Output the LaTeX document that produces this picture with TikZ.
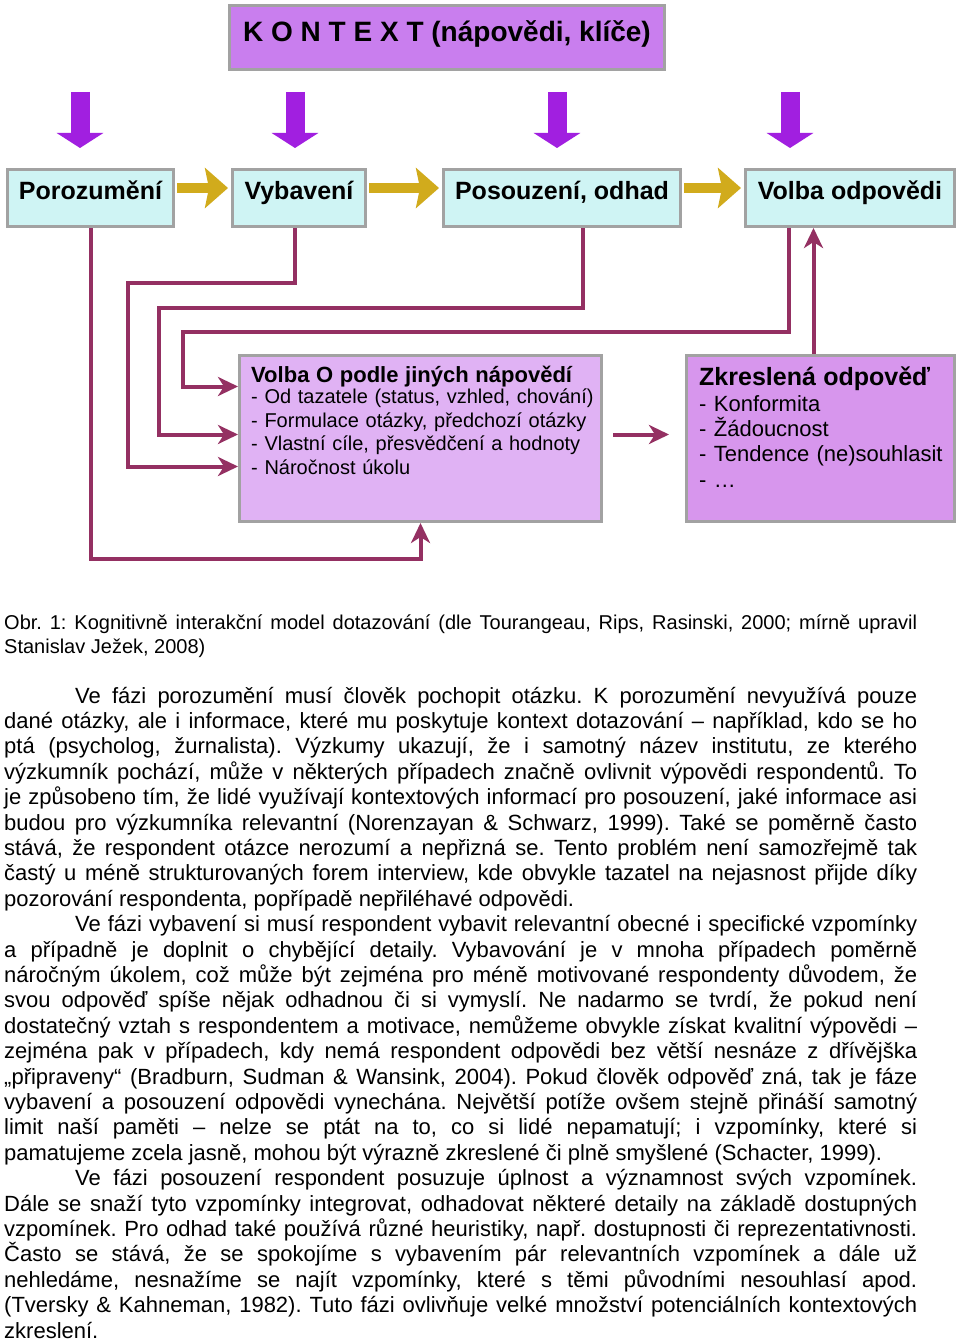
\documentclass[tikz,border=0pt]{standalone}
\usepackage{fontspec}
\setmainfont{Liberation Sans}
\usetikzlibrary{arrows.meta}

\definecolor{boxgray}{RGB}{162,162,162}
\definecolor{ctxviolet}{RGB}{201,126,238}
\definecolor{cuepurple}{RGB}{161,31,224}
\definecolor{phasecyan}{RGB}{207,244,244}
\definecolor{flowgold}{RGB}{209,171,28}
\definecolor{linkplum}{RGB}{148,48,98}
\definecolor{choicefill}{RGB}{224,178,244}
\definecolor{biasfill}{RGB}{215,150,237}

\frenchspacing
\setlength{\lineskiplimit}{-50pt}
\newcommand{\jline}[1]{\hbox to 913pt{\spaceskip=0pt\xspaceskip=0pt #1}}
\newcommand{\ind}{\hskip 71pt\relax}

\begin{document}
\begin{tikzpicture}[x=1pt, y=-1pt,
    box/.style = {draw=boxgray, line width=3pt, inner sep=0pt},
    phase/.style = {box, fill=phasecyan, minimum height=57pt, text height=18pt, text depth=14pt, font=\bfseries\fontsize{25}{28}\selectfont},
    cue/.style = {draw=cuepurple, line width=19pt, -{Triangle[length=15pt,width=46pt]}},
    flow/.style = {draw=flowgold, line width=10pt, -{Stealth[length=23pt,width=40pt,inset=4pt]}, shorten <=2pt, shorten >=3pt},
    link/.style = {draw=linkplum, line width=4pt, -{Stealth[length=20pt,width=19pt,inset=6pt]}},
    para/.style = {anchor=base west, inner sep=0pt, text width=913pt, align=justify}]
    \path[use as bounding box, fill=white] (0,0) rectangle (960,1343);

    \node[box, fill=ctxviolet, minimum width=435pt, minimum height=64pt, text height=20pt, text depth=11pt, font=\bfseries\fontsize{28}{32}\selectfont] (kontext) at (447,37.5) {K O N T E X T (nápovědi, klíče)};
    \foreach \x in {80,295,557,790}
        \draw[cue] (\x,92) -- (\x,148);

    \node[phase, minimum width=166pt] (poroz) at (90.5,198) {Porozumění};
    \node[phase, minimum width=133pt] (vybav) at (299,198) {Vybavení};
    \node[phase, minimum width=237pt] (posouz) at (562,198) {Posouzení, odhad};
    \node[phase, minimum width=209pt] (volba) at (850,198) {Volba odpovědi};

    \draw[flow] ([yshift=10pt]poroz.east) -- ([yshift=10pt]vybav.west);
    \draw[flow] ([yshift=10pt]vybav.east) -- ([yshift=10pt]posouz.west);
    \draw[flow] ([yshift=10pt]posouz.east) -- ([yshift=10pt]volba.west);

    \node[box, fill=choicefill, minimum width=362pt, minimum height=166pt] (volbaO) at (420.5,438.5) {};
    \node[box, fill=biasfill, minimum width=268pt, minimum height=166pt] (zkresl) at (820.5,438.5) {};
    \node[anchor=base west, inner sep=0pt, text width=345pt, align=left, font=\fontsize{20}{23.5}\selectfont] (volbaOtext) at (251,382)
        {{\bfseries\fontsize{22}{23.5}\selectfont Volba O podle jiných nápovědí}\\[-2pt]
        - Od tazatele (status, vzhled, chování)\\
        - Formulace otázky, předchozí otázky\\
        - Vlastní cíle, přesvědčení a hodnoty\\
        - Náročnost úkolu};
    \node[anchor=base west, inner sep=0pt, text width=255pt, align=left, font=\fontsize{22}{25.3}\selectfont] (zkresltext) at (699,385)
        {{\bfseries\fontsize{25}{25.3}\selectfont Zkreslená odpověď}\\[1pt]
        - Konformita\\
        - Žádoucnost\\
        - Tendence (ne)souhlasit\\
        - …};

    \draw[link] (poroz.south) |- (300,559) -| (volbaO.south);
    \draw[link] ([xshift=-4pt]vybav.south) |- (128,283) |- ([yshift=-28pt]volbaO.west);
    \draw[link] ([xshift=21pt]posouz.south) |- (159,308) |- ([yshift=4pt]volbaO.west);
    \draw[link] ([xshift=-61pt]volba.south) |- (183,332) |- ([yshift=52pt]volbaO.west);
    \draw[link] ([xshift=-7pt]zkresl.north) -- ([xshift=-7pt]zkresl.north |- volba.south);
    \draw[link, shorten <=10pt, shorten >=16pt] ([yshift=4pt]volbaO.east) -- ([yshift=4pt]zkresl.west);

    \node[para, font=\fontsize{20}{24}\selectfont] (caption) at (4,629)
        {\jline{Obr. 1: Kognitivně interakční model dotazování (dle Tourangeau, Rips, Rasinski, 2000; mírně upravil}
        \jline{Stanislav Ježek, 2008)\hfil}};

    \node[para, font=\fontsize{22}{25.4}\selectfont] (body) at (4,703)
        {\jline{\ind Ve fázi porozumění musí člověk pochopit otázku. K porozumění nevyužívá pouze}
        \jline{dané otázky, ale i informace, které mu poskytuje kontext dotazování – například, kdo se ho}
        \jline{ptá (psycholog, žurnalista). Výzkumy ukazují, že i samotný název institutu, ze kterého}
        \jline{výzkumník pochází, může v některých případech značně ovlivnit výpovědi respondentů. To}
        \jline{je způsobeno tím, že lidé využívají kontextových informací pro posouzení, jaké informace asi}
        \jline{budou pro výzkumníka relevantní (Norenzayan \& Schwarz, 1999). Také se poměrně často}
        \jline{stává, že respondent otázce nerozumí a nepřizná se. Tento problém není samozřejmě tak}
        \jline{častý u méně strukturovaných forem interview, kde obvykle tazatel na nejasnost přijde díky}
        \jline{pozorování respondenta, popřípadě nepřiléhavé odpovědi.\hfil}
        \jline{\ind Ve fázi vybavení si musí respondent vybavit relevantní obecné i specifické vzpomínky}
        \jline{a případně je doplnit o chybějící detaily. Vybavování je v mnoha případech poměrně}
        \jline{náročným úkolem, což může být zejména pro méně motivované respondenty důvodem, že}
        \jline{svou odpověď spíše nějak odhadnou či si vymyslí. Ne nadarmo se tvrdí, že pokud není}
        \jline{dostatečný vztah s respondentem a motivace, nemůžeme obvykle získat kvalitní výpovědi –}
        \jline{zejména pak v případech, kdy nemá respondent odpovědi bez větší nesnáze z dřívějška}
        \jline{„připraveny“ (Bradburn, Sudman \& Wansink, 2004). Pokud člověk odpověď zná, tak je fáze}
        \jline{vybavení a posouzení odpovědi vynechána. Největší potíže ovšem stejně přináší samotný}
        \jline{limit naší paměti – nelze se ptát na to, co si lidé nepamatují; i vzpomínky, které si}
        \jline{pamatujeme zcela jasně, mohou být výrazně zkreslené či plně smyšlené (Schacter, 1999).\hfil}
        \jline{\ind Ve fázi posouzení respondent posuzuje úplnost a významnost svých vzpomínek.}
        \jline{Dále se snaží tyto vzpomínky integrovat, odhadovat některé detaily na základě dostupných}
        \jline{vzpomínek. Pro odhad také používá různé heuristiky, např. dostupnosti či reprezentativnosti.}
        \jline{Často se stává, že se spokojíme s vybavením pár relevantních vzpomínek a dále už}
        \jline{nehledáme, nesnažíme se najít vzpomínky, které s těmi původními nesouhlasí apod.}
        \jline{(Tversky \& Kahneman, 1982). Tuto fázi ovlivňuje velké množství potenciálních kontextových}
        \jline{zkreslení.\hfil}};
\end{tikzpicture}
\end{document}
